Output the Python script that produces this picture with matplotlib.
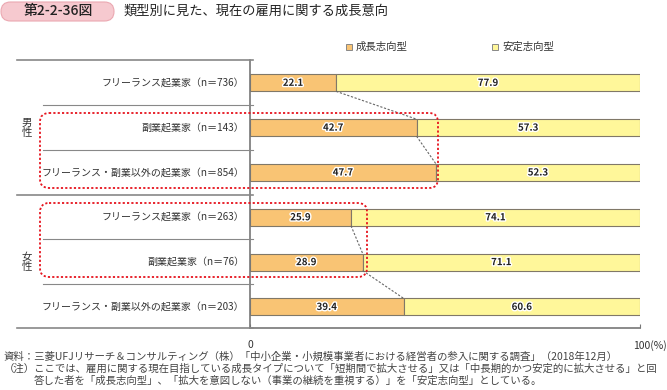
import matplotlib.pyplot as plt
import matplotlib.patheffects as pe
from matplotlib.patches import FancyBboxPatch, Rectangle
from matplotlib.transforms import ScaledTranslation

plt.rcParams['font.family'] = ['Noto Sans CJK JP', 'DejaVu Sans']

# データ
categories = ["フリーランス起業家（n＝736）", "副業起業家（n＝143）", "フリーランス・副業以外の起業家（n＝854）",
              "フリーランス起業家（n＝263）", "副業起業家（n＝76）", "フリーランス・副業以外の起業家（n＝203）"]
growth = [22.1, 42.7, 47.7, 25.9, 28.9, 39.4]      # 成長志向型
stable = [77.9, 57.3, 52.3, 74.1, 71.1, 60.6]      # 安定志向型
groups = ["男\n性", "女\n性"]
series_names = ["成長志向型", "安定志向型"]
xtick_labels = ["0", "100(%)"]

C_GROWTH = "#F9C474"
C_STABLE = "#FFF79A"
EDGE = "#807868"
W, H = 667, 390

fig = plt.figure(figsize=(W / 100, H / 100), dpi=100)

# 棒グラフ本体 (x: 250→640px, y: 60→328px)
ax = fig.add_axes([250 / W, 1 - 328 / H, 390 / W, 268 / H])
rows = list(range(len(categories)))
bh = 0.38
ax.barh(rows, growth, height=bh, color=C_GROWTH, edgecolor=EDGE, linewidth=0.8)
ax.barh(rows, stable, left=growth, height=bh, color=C_STABLE, edgecolor=EDGE, linewidth=0.8)
ax.set_xlim(0, 100)
ax.set_ylim(5.47, -0.51)

stroke = [pe.withStroke(linewidth=2, foreground="white")]
for i in rows:
    ax.text(growth[i] / 2, i, f"{growth[i]:.1f}", ha="center", va="center", fontsize=7,
            fontweight="bold", color="#222222", path_effects=stroke)
    ax.text(growth[i] + stable[i] / 2, i, f"{stable[i]:.1f}", ha="center", va="center", fontsize=7,
            fontweight="bold", color="#222222", path_effects=stroke)

# 点線の接続線
for i in [0, 1, 3, 4]:
    ax.plot([growth[i], growth[i + 1]], [i + bh / 2, i + 1 - bh / 2], color="#666666",
            linestyle=(0, (2, 1.5)), linewidth=0.8)

for s in ["top", "right"]:
    ax.spines[s].set_visible(False)
ax.spines["left"].set_color("#777777")
ax.spines["bottom"].set_color("#777777")
ax.spines["left"].set_linewidth(1.2)
ax.spines["bottom"].set_linewidth(1.2)
ax.set_yticks([])
ax.set_xticks([0, 100])
ax.set_xticklabels(xtick_labels, fontsize=7.5, color="#333333")
ax.tick_params(axis="x", direction="in", length=3, color="#777777", pad=9)
lbl = ax.get_xticklabels()[1]
lbl.set_horizontalalignment("left")
lbl.set_transform(lbl.get_transform() + ScaledTranslation(-7 / 100, 0, fig.dpi_scale_trans))

# オーバーレイ (ピクセル座標)
ov = fig.add_axes([0, 0, 1, 1], zorder=5)
ov.set_xlim(0, W)
ov.set_ylim(H, 0)
ov.axis("off")
ov.patch.set_visible(False)

# タイトル
ov.add_patch(FancyBboxPatch((1, 2), 113, 19, boxstyle="round,pad=0,rounding_size=9.5",
                            facecolor="#F6C9CF", edgecolor="#EBA8B1", linewidth=0.8))
ov.text(58, 11.5, "第2-2-36図", ha="center", va="center", fontsize=10, fontweight="medium",
        color="#222222")
ov.text(124, 11.5, "類型別に見た、現在の雇用に関する成長意向", ha="left", va="center",
        fontsize=9.5, color="#222222")

# 凡例
for x0, name, c in [(349, series_names[0], C_GROWTH), (495, series_names[1], C_STABLE)]:
    ov.add_patch(Rectangle((x0 - 3, 44), 6, 6, facecolor=c, edgecolor="#888888", linewidth=0.7))
    ov.text(x0 + 7, 47, name, ha="left", va="center", fontsize=7.5, color="#333333")

# 分類ラベルと区切り線
row_y = [83, 128, 173, 217, 262, 307]
for y, cat in zip(row_y, categories):
    ov.text(244, y, cat, ha="right", va="center", fontsize=7.2, color="#333333")
ov.text(27, 128, groups[0], ha="center", va="center", fontsize=7.5, color="#333333", linespacing=1.0)
ov.text(27, 262, groups[1], ha="center", va="center", fontsize=7.5, color="#333333", linespacing=1.0)
for y, x0, lw in [(60, 17, 1.2), (105, 43, 0.8), (150, 43, 0.8), (195, 17, 1.2),
                  (239, 43, 0.8), (284, 43, 0.8), (328, 17, 1.2)]:
    ov.plot([x0, 253], [y, y], color="#888888", linewidth=lw)

# 赤い点線の枠
for (x0, y0, x1, y1) in [(40, 113, 438, 188), (40, 203, 367, 277)]:
    ov.add_patch(FancyBboxPatch((x0, y0), x1 - x0, y1 - y0, boxstyle="round,pad=0,rounding_size=9",
                                facecolor="none", edgecolor="#E6141E", linewidth=1.3,
                                linestyle=(0, (1.2, 1.2))))

# 注記
ov.text(4, 357, "資料：三菱UFJリサーチ＆コンサルティング（株）「中小企業・小規模事業者における経営者の参入に関する調査」（2018年12月）",
        ha="left", va="center", fontsize=7.5, color="#444444")
ov.text(4, 369, "（注）ここでは、雇用に関する現在目指している成長タイプについて「短期間で拡大させる」又は「中長期的かつ安定的に拡大させる」と回",
        ha="left", va="center", fontsize=7.5, color="#444444")
ov.text(34, 381, "答した者を「成長志向型」、「拡大を意図しない（事業の継続を重視する）」を「安定志向型」としている。",
        ha="left", va="center", fontsize=7.5, color="#444444")

fig.savefig("out.png", dpi=100)
